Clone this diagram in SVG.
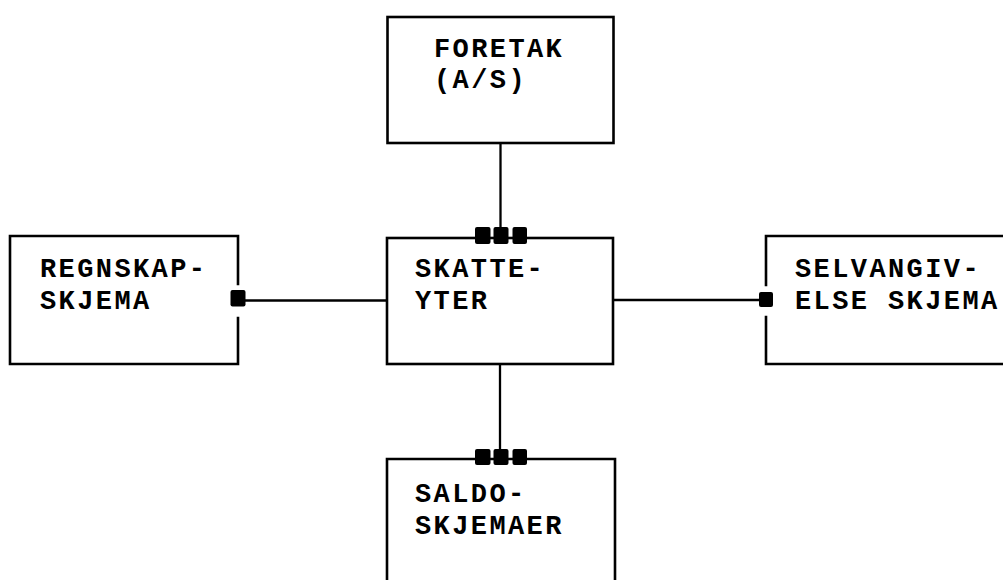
<svg xmlns="http://www.w3.org/2000/svg" width="1003" height="580" viewBox="0 0 1003 580">
<style>
.box{fill:none;stroke:#000;stroke-width:2.6;stroke-linecap:square}
.ln{fill:none;stroke:#000;stroke-width:2.3}
.sq{fill:#000}
text{font-family:"Liberation Mono","Courier New",monospace;font-weight:bold;font-size:27px;letter-spacing:2.4px;fill:#000}
</style>
<rect width="1003" height="580" fill="#fff"/>
<g id="connectors">
<line class="ln" x1="500.5" y1="143" x2="500.5" y2="228"/>
<line class="ln" x1="500" y1="364" x2="500" y2="450"/>
<line class="ln" x1="245" y1="300.5" x2="387" y2="300.5"/>
<line class="ln" x1="613" y1="300" x2="760" y2="300"/>
<rect class="sq" x="475" y="227" width="15.5" height="17" rx="2"/>
<rect class="sq" x="493.5" y="227" width="15" height="17" rx="2"/>
<rect class="sq" x="512.5" y="227" width="14.5" height="17" rx="2"/>
<rect class="sq" x="475" y="449" width="15.5" height="16" rx="2"/>
<rect class="sq" x="493.5" y="449" width="15" height="16" rx="2"/>
<rect class="sq" x="512.5" y="449" width="14.5" height="16" rx="2"/>
<rect class="sq" x="230.5" y="290" width="15" height="16.5" rx="2"/>
<rect class="sq" x="759" y="292" width="14" height="15" rx="2"/>
</g>
<g id="foretak">
<rect class="box" x="387.5" y="17" width="226" height="126"/>
<text x="434" y="57">FORETAK</text>
<text x="434" y="87.5">(A/S)</text>
</g>
<g id="skatteyter">
<rect class="box" x="387" y="238" width="226" height="126"/>
<text x="415" y="277">SKATTE-</text>
<text x="415" y="308.5">YTER</text>
</g>
<g id="regnskapskjema">
<path class="box" d="M238,284 V236 H10 V364 H238 V318"/>
<text x="40" y="277">REGNSKAP-</text>
<text x="40" y="308.5">SKJEMA</text>
</g>
<g id="selvangivelse">
<path class="box" d="M1010,236 H766 V285 M766,317 V364 H1010"/>
<text x="795" y="277">SELVANGIV-</text>
<text x="795" y="309">ELSE SKJEMA</text>
</g>
<g id="saldoskjemaer">
<path class="box" d="M387,590 V459 H615 V590"/>
<text x="415" y="502">SALDO-</text>
<text x="415" y="533.5">SKJEMAER</text>
</g>
</svg>
